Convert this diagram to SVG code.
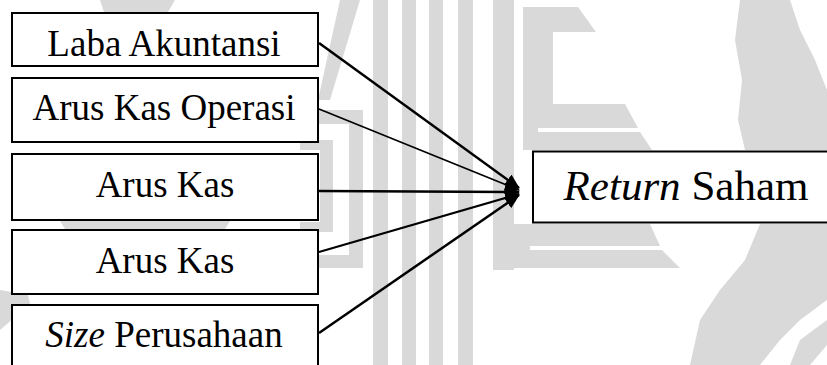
<svg xmlns="http://www.w3.org/2000/svg" width="827" height="365" viewBox="0 0 827 365">
<style>
.wm{fill:#d9d9d9;stroke:none}
.box{fill:#fff;stroke:#000;stroke-width:2}
.t{font-family:'Liberation Serif','Times New Roman',serif;font-size:37px;fill:#000;text-anchor:middle}
.tr{font-size:43px}
.i{font-style:italic}
.c{stroke:#000;fill:none}
</style>
<defs>
<marker id="ah" markerUnits="userSpaceOnUse" markerWidth="16" markerHeight="14" refX="14" refY="6.5" orient="auto">
<path d="M0,0 L15,6.5 L0,13 z" fill="#000"/>
</marker>
</defs>
<rect width="827" height="365" fill="#fff"/>
<g id="watermark">
<rect class="wm" x="373" y="0" width="15" height="365"/>
<rect class="wm" x="402" y="0" width="14" height="365"/>
<rect class="wm" x="429" y="0" width="14" height="365"/>
<rect class="wm" x="458" y="0" width="15" height="365"/>
<rect class="wm" x="493" y="0" width="21" height="270"/>
<path class="wm" d="M523,7 L578,7 L596,32 L553,32 L553,104 L625,104 L638,128 L538,128 L538,132 L640,132 L652,150 L523,150 Z"/>
<path class="wm" d="M514,224 L650,224 L660,246 L530,246 L530,250 L662,250 L680,268 L493,268 L493,224 Z"/>
<path class="wm" d="M300,110 L363,110 L363,268 L300,268 L300,255 L349,255 L349,124 L300,124 Z"/>
<path class="wm" d="M300,140 L333,140 L333,232 L300,232 L300,222 L320,222 L320,150 L300,150 Z"/>
<path class="wm" d="M340,0 L360,0 L330,100 L318,100 Z"/>
<path class="wm" d="M100,0 L175,0 L168,12 L104,12 Z"/>
<path class="wm" d="M60,221 L230,221 L225,229 L65,229 Z"/>
<path class="wm" d="M0,290 L28,295 L30,304 L0,330 Z"/>
<path class="wm" d="M740,0 L790,0 L800,30 L815,60 L827,90 L827,150 L745,150 L738,120 L742,80 L735,40 Z"/>
<path class="wm" d="M760,224 L827,224 L827,300 L800,320 L780,340 L760,365 L690,365 L700,320 L720,290 L745,260 Z"/>
<path class="wm" d="M800,340 L827,320 L827,345 L810,365 L790,365 Z"/>
</g>
<g id="connectors">
<line class="c" x1="319" y1="43" x2="519" y2="188" stroke-width="2.5" marker-end="url(#ah)"/>
<line class="c" x1="319" y1="109" x2="519" y2="190" stroke-width="1.8" marker-end="url(#ah)"/>
<line class="c" x1="319" y1="191" x2="519" y2="192" stroke-width="2.5" marker-end="url(#ah)"/>
<line class="c" x1="319" y1="252" x2="519" y2="194" stroke-width="2" marker-end="url(#ah)"/>
<line class="c" x1="319" y1="333" x2="519" y2="195" stroke-width="2.5" marker-end="url(#ah)"/>
</g>
<g id="n1"><rect class="box" x="12" y="13" width="306" height="53"/><text class="t" x="164" y="56">Laba Akuntansi</text></g>
<g id="n2"><rect class="box" x="12" y="78" width="306" height="64"/><text class="t" x="164" y="120">Arus Kas Operasi</text></g>
<g id="n3"><rect class="box" x="12" y="154" width="306" height="66"/><text class="t" x="165" y="197">Arus Kas</text></g>
<g id="n4"><rect class="box" x="12" y="230" width="306" height="64"/><text class="t" x="165" y="273">Arus Kas</text></g>
<g id="n5"><rect class="box" x="12" y="305" width="306" height="80"/><text class="t" x="164" y="347"><tspan class="i">Size</tspan> Perusahaan</text></g>
<g id="target"><rect class="box" x="533" y="151.5" width="320" height="71"/><text class="t tr" x="686" y="200"><tspan class="i">Return</tspan> Saham</text></g>
</svg>
